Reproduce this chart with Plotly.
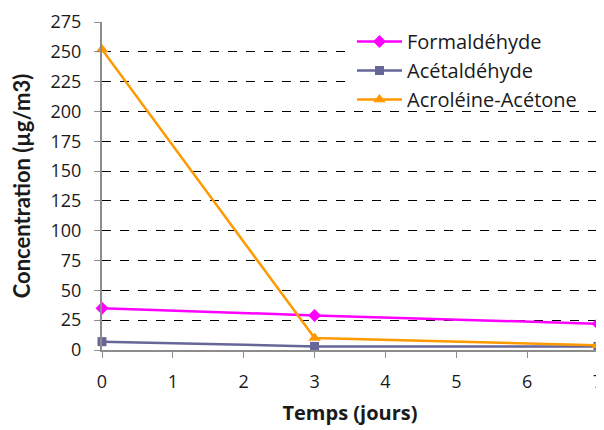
import plotly.graph_objects as go

jours = [0, 3, 7]
formaldehyde = [35, 29, 22]
acetaldehyde = [7, 3, 3]
acroleine_acetone = [252, 10, 4]

fig = go.Figure()
series = [
    ("Formaldéhyde", formaldehyde, "#FF00FF", "diamond", 10),
    ("Acétaldéhyde", acetaldehyde, "#666699", "square", 9),
    ("Acroléine-Acétone", acroleine_acetone, "#FF9900", "triangle-up", 11),
]
for name, vals, color, sym, sz in series:
    fig.add_trace(go.Scatter(
        x=jours, y=vals, name=name, mode="lines+markers",
        line=dict(color=color, width=2.5),
        marker=dict(symbol=sym, size=sz, color=color),
        cliponaxis=False,
    ))

# white area behind the legend, hiding the gridlines there
fig.add_shape(type="rect", xref="paper", yref="y", x0=0.504, x1=1.02, y0=210, y1=265,
              fillcolor="white", line=dict(width=0), layer="above")

wide = "'Open Sans', sans-serif"
narrow = "Lato, sans-serif"
fig.update_layout(
    width=596, height=422,
    margin=dict(l=94, r=6, t=14, b=80, autoexpand=False),
    paper_bgcolor="white", plot_bgcolor="white",
    font=dict(family=wide, size=18, color="#1a1a1a"),
    showlegend=True,
    legend=dict(
        x=0.504, y=1.0, xanchor="left", yanchor="top",
        bgcolor="rgba(0,0,0,0)", font=dict(family=wide, size=20, color="#1a1a1a"),
        tracegroupgap=0, itemwidth=45,
    ),
    xaxis=dict(
        range=[0, 7], dtick=1, tick0=0, automargin=False,
        showgrid=False, zeroline=False,
        showline=True, linecolor="#8c8c8c", linewidth=2,
        ticks="outside", tickcolor="#8c8c8c", ticklen=6,
        ticklabeloverflow="allow", ticklabelstandoff=8,
        title=dict(text="<b>Temps (jours)</b>", font=dict(family=wide, size=20), standoff=14),
        tickfont=dict(family=wide, size=18),
    ),
    yaxis=dict(
        range=[0, 275], dtick=25, tick0=0, automargin=False,
        showgrid=True, gridcolor="black", griddash="dash", gridwidth=1,
        zeroline=False,
        showline=True, linecolor="#8c8c8c", linewidth=2,
        ticks="outside", tickcolor="#8c8c8c", ticklen=6,
        ticklabelstandoff=9,
        title=dict(text="<b>Concentration (µg/m3)</b>", font=dict(family=narrow, size=22), standoff=16),
        tickfont=dict(family=wide, size=18),
    ),
)
fig.write_html("out.html")
